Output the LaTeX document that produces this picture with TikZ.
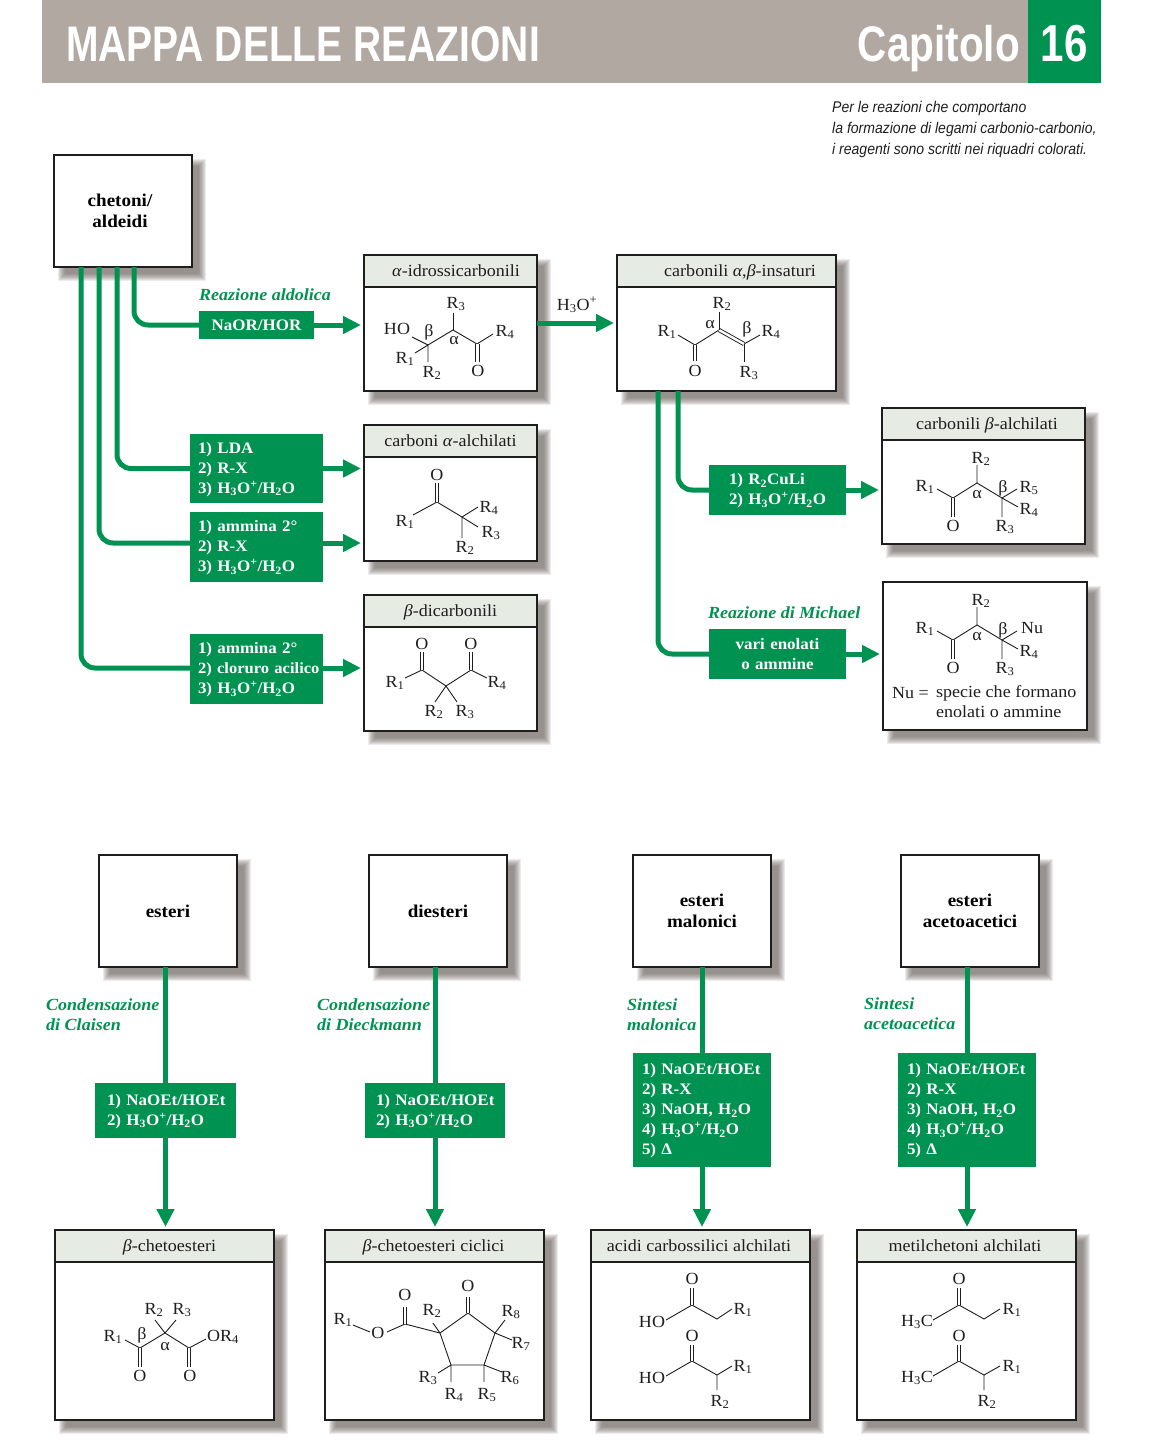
\documentclass[tikz,border=0pt]{standalone}
\usepackage{fontspec}
\setmainfont[FakeStretch=1.06]{Liberation Serif}
\newfontfamily\headfont[FakeStretch=0.78]{Liberation Sans}
\newfontfamily\chapfont[FakeStretch=0.81]{Liberation Sans}
\newfontfamily\notefont[FakeStretch=0.905]{Liberation Sans}
\usetikzlibrary{arrows.meta}
\definecolor{rgreen}{RGB}{0,146,80}
\definecolor{rtaupe}{RGB}{178,168,162}
\definecolor{rpale}{RGB}{230,236,228}
\definecolor{rshadow}{RGB}{95,85,80}
\definecolor{rink}{RGB}{30,30,30}
\newcommand{\Rr}[1]{R\textsubscript{#1}}
\newcommand{\hthree}{H\textsubscript{3}O\textsuperscript{+}}
\newcommand{\hwork}{\mbox{\hthree/H\textsubscript{2}O}}
\tikzset{
  chem/.style={font=\fontsize{17}{20}\selectfont},
  flow/.style={line width=5pt,draw=rgreen,rounded corners=14pt},
  flowto/.style={line width=5pt,draw=rgreen,shorten >=3pt,-{Triangle[length=18pt,width=17pt]}},
  bond/.style={line width=0.9pt,draw=rink},
  dbl/.style={bond,double,double distance=2.4pt,line width=0.9pt},
  atom/.style={chem,inner sep=0pt,text=rink},
  greek/.style={atom},
  outline/.style={draw=rink,line width=1.5pt,fill=white,anchor=north west,inner sep=0pt,outer sep=0pt},
  reagent/.style={fill=rgreen,text=white,anchor=north west,inner ysep=0pt,outer sep=0pt,align=left,
    font=\fontsize{16}{20}\selectfont\bfseries},
  lowered/.style={execute at begin node=\rule{0pt}{13pt}},
  side/.style={text=rgreen,anchor=west,align=left,inner sep=0pt,
    font=\fontsize{17}{20}\selectfont\itshape\bfseries}
}
% soft shadow under a box
\newcommand{\softshadow}[4]{%
  \foreach \k in {0,...,7}
    \fill[rshadow,opacity=0.12] ({#1+4+\k},{#2+4+\k}) rectangle ({#3+14-\k},{#4+14-\k});}
% starting box
\newcommand{\startbox}[4]{%
  \softshadow{#2}{#3}{#2+138}{#3+112}
  \node[outline,minimum width=138pt,minimum height=112pt,align=center,
    font=\fontsize{18}{21}\selectfont\bfseries] (#1) at (#2,#3) {#4};}
% product box with a title strip
\newcommand{\prodbox}[7]{%
  \softshadow{#2}{#3}{#2+#4}{#3+#5}
  \node[outline,minimum width=#4pt,minimum height=#5pt] (#1) at (#2,#3) {};
  \node[outline,fill=rpale,minimum width=#4pt,minimum height=32pt] (#1-head) at (#2,#3) {};
  \node[chem,inner sep=0pt,text=rink,anchor=base] (#1-title) at ({#2+#4/2+#6},{#3+21.5}) {#7};}
\begin{document}
\begin{tikzpicture}[x=1pt,y=-1pt]
    \useasboundingbox (0,0) rectangle (1168,1440);
    % Title band
    \fill[rtaupe] (42,0) rectangle (1028,83);
    \fill[rgreen] (1028,0) rectangle (1101,83);
    \node[anchor=base west,inner sep=0pt,text=white,font=\headfont\fontsize{50}{50}\selectfont\bfseries]
        (maintitle) at (66,61) {MAPPA DELLE REAZIONI};
    \node[anchor=base east,inner sep=0pt,text=white,font=\chapfont\fontsize{50}{50}\selectfont\bfseries]
        (chaptitle) at (1020,61) {Capitolo};
    \node[anchor=base,inner sep=0pt,text=white,font=\chapfont\fontsize{52}{52}\selectfont\bfseries]
        (chapnum) at (1064,61) {16};
    \node[anchor=north west,inner sep=0pt,align=left,text=rink,
        font=\notefont\fontsize{15.5}{21}\selectfont\itshape] (note) at (832,101)
        {Per le reazioni che comportano\\la formazione di legami carbonio-carbonio,\\i reagenti sono scritti nei riquadri colorati.};
    % Boxes, upper part
    \startbox{chet}{54}{155}{chetoni/\hspace*{6pt}\\aldeidi\hspace*{6pt}}
    \prodbox{aldol}{364}{255}{173}{136}{5.5}{\textit{α}-idrossicarbonili}
    \prodbox{enone}{617}{255}{219}{136}{13.5}{carbonili \textit{α},\textit{β}-insaturi}
    \prodbox{alkyl}{364}{425}{173}{136}{0}{carboni \textit{α}-alchilati}
    \prodbox{dicarb}{364}{595}{173}{136}{0}{\textit{β}-dicarbonili}
    \prodbox{betalk}{882}{408}{203}{136}{3.5}{carbonili \textit{β}-alchilati}
    \softshadow{883}{582}{1087}{730}
    \node[outline,minimum width=204pt,minimum height=148pt] (nubox) at (883,582) {};
    % Boxes, lower part
    \startbox{est}{99}{855}{esteri}
    \startbox{diest}{369}{855}{diesteri}
    \startbox{malon}{633}{855}{esteri\\malonici}
    \startbox{aceto}{901}{855}{esteri\\acetoacetici}
    \prodbox{bket}{55}{1230}{219}{190}{5}{\textit{β}-chetoesteri}
    \prodbox{cket}{325}{1230}{219}{190}{-1}{\textit{β}-chetoesteri ciclici}
    \prodbox{acid}{591}{1230}{219}{190}{-1.5}{acidi carbossilici alchilati}
    \prodbox{metk}{857}{1230}{219}{190}{-1.5}{metilchetoni alchilati}
    % Reagents
    \node[reagent,align=center,minimum width=115pt,minimum height=28pt,inner xsep=0pt]
        (naor) at (199,311) {NaOR/HOR};
    \node[reagent,lowered,minimum height=69pt,inner xsep=8pt,text width=117pt] (lda) at (190,434)
        {1) LDA\\2) R-X\\3) \hwork};
    \node[reagent,lowered,minimum height=70pt,inner xsep=8pt,text width=117pt] (amin) at (190,512)
        {1) ammina 2°\\2) R-X\\3) \hwork};
    \node[reagent,lowered,minimum height=70pt,inner xsep=8pt,text width=117pt] (clor) at (190,634)
        {1) ammina 2°\\\mbox{\fontsize{15.6}{20}\selectfont 2) cloruro acilico}\\3) \hwork};
    \node[reagent,lowered,minimum height=50pt,inner xsep=20pt,text width=97pt] (cupr) at (709,465)
        {1) \Rr{2}CuLi\\\mbox{2) \hwork}};
    \node[reagent,align=center,minimum height=50pt,inner xsep=0pt,text width=137pt] (enol) at (709,629)
        {vari enolati\\o ammine};
    \node[reagent,lowered,minimum height=55pt,inner xsep=12pt,text width=117pt] (clais) at (95,1083)
        {\mbox{1) NaOEt/HOEt}\\2) \hwork};
    \node[reagent,lowered,minimum height=55pt,inner xsep=11pt,text width=118pt] (dieck) at (365,1083)
        {\mbox{1) NaOEt/HOEt}\\2) \hwork};
    \node[reagent,lowered,minimum height=114pt,inner xsep=9pt,text width=120pt] (msyn) at (633,1053)
        {\mbox{1) NaOEt/HOEt}\\2) R-X\\3) NaOH, H\textsubscript{2}O\\4) \hwork\\5) Δ};
    \node[reagent,lowered,minimum height=114pt,inner xsep=9pt,text width=120pt] (asyn) at (898,1053)
        {\mbox{1) NaOEt/HOEt}\\2) R-X\\3) NaOH, H\textsubscript{2}O\\4) \hwork\\5) Δ};
    % Green side labels
    \node[side] (sald) at (199,295) {Reazione aldolica};
    \node[side] (smich) at (708,613) {Reazione di Michael};
    \node[side] (scla) at (46,1015) {Condensazione\\di Claisen};
    \node[side] (sdie) at (317,1015) {Condensazione\\di Dieckmann};
    \node[side] (smal) at (627,1015) {Sintesi\\malonica};
    \node[side] (sace) at (864,1014) {Sintesi\\acetoacetica};
    % Connectors
    \draw[flow] ([xshift=11pt]chet.south) |- (naor.west);
    \draw[flow] ([xshift=-6pt]chet.south) |- (lda.west);
    \draw[flow] ([xshift=-24pt]chet.south) |- ([yshift=4pt]amin.west);
    \draw[flow] ([xshift=-42pt]chet.south) |- ([yshift=1pt]clor.west);
    \draw[flowto] (naor.east) -- (naor.east -| aldol.west);
    \draw[flowto] (lda.east) -- (lda.east -| alkyl.west);
    \draw[flowto] ([yshift=4pt]amin.east) -- ([yshift=4pt]amin.east -| alkyl.west);
    \draw[flowto] ([yshift=1pt]clor.east) -- ([yshift=1pt]clor.east -| dicarb.west);
    \draw[flowto] (aldol.east) -- (enone.west);
    \node[atom] (acidlab) at (577,305) {\hthree};
    \draw[flow] ([xshift=-48.5pt]enone.south) |- (cupr.west);
    \draw[flow] ([xshift=-68.5pt]enone.south) |- (enol.west);
    \draw[flowto] (cupr.east) -- (cupr.east -| betalk.west);
    \draw[flowto] (enol.east) -- (enol.east -| nubox.west);
    \draw[flow] (clais.north |- est.south) -- (clais.north);
    \draw[flow] (dieck.north |- diest.south) -- (dieck.north);
    \draw[flow] (msyn.north |- malon.south) -- (msyn.north);
    \draw[flow] (asyn.north |- aceto.south) -- (asyn.north);
    \draw[flowto] (clais.south) -- (clais.south |- bket.north);
    \draw[flowto] (dieck.south) -- (dieck.south |- cket.north);
    \draw[flowto] (msyn.south) -- (msyn.south |- acid.north);
    \draw[flowto] (asyn.south) -- (asyn.south |- metk.north);
    % Hydroxy carbonyl
    \draw[bond] (412,337) -- (428,345) -- (453,330) -- (477,344) -- (493,334);
    \draw[bond] (415,353) -- (428,345) -- (428,362);
    \draw[bond] (453,330) -- (453,313);
    \draw[dbl] (477.5,344) -- (477.5,362);
    \node[atom] (aldHO) at (397,329) {HO};
    \node[greek] (aldb) at (429,332) {β};
    \node[atom] (aldR1) at (405,359) {\Rr{1}};
    \node[atom] (aldR2) at (432,373) {\Rr{2}};
    \node[atom] (aldR3) at (456,304) {\Rr{3}};
    \node[atom] (aldR4) at (505,332) {\Rr{4}};
    \node[greek] (alda) at (454,341) {α};
    \node[atom] (aldO) at (478,371) {O};
    % Unsaturated carbonyl
    \draw[bond] (678,335) -- (695,345) -- (719,330) (744,344) -- (760,335);
    \draw[dbl] (719,330) -- (744,344);
    \draw[bond] (719,330) -- (719,312) (744,344) -- (744,362);
    \draw[dbl] (695,345) -- (695,361);
    \node[atom] (enoR1) at (667,332) {\Rr{1}};
    \node[atom] (enoR2) at (722,304) {\Rr{2}};
    \node[atom] (enoR3) at (749,373) {\Rr{3}};
    \node[atom] (enoR4) at (771,332) {\Rr{4}};
    \node[atom] (enoO) at (695,371) {O};
    \node[greek] (enoa) at (710,325) {α};
    \node[greek] (enob) at (747,329) {β};
    % Alpha alkylated
    \draw[bond] (413,515) -- (437,502) -- (462,517) -- (478,507);
    \draw[bond] (462,517) -- (478,527) (462,517) -- (462,538);
    \draw[dbl] (437,502) -- (437,483);
    \node[atom] (alkO) at (437,475) {O};
    \node[atom] (alkR1) at (405,522) {\Rr{1}};
    \node[atom] (alkR2) at (465,548) {\Rr{2}};
    \node[atom] (alkR3) at (491,533) {\Rr{3}};
    \node[atom] (alkR4) at (489,508) {\Rr{4}};
    % Beta dicarbonyl
    \draw[bond] (405,678) -- (422,670) -- (446,686) -- (471,670) -- (487,678);
    \draw[bond] (435,702) -- (446,686) -- (457,702);
    \draw[dbl] (422,670) -- (422,652);
    \draw[dbl] (471,670) -- (471,652);
    \node[atom] (dicO1) at (422,644) {O};
    \node[atom] (dicO2) at (471,644) {O};
    \node[atom] (dicR1) at (395,683) {\Rr{1}};
    \node[atom] (dicR2) at (434,712) {\Rr{2}};
    \node[atom] (dicR3) at (465,712) {\Rr{3}};
    \node[atom] (dicR4) at (497,683) {\Rr{4}};
    % Beta alkylated
    \draw[bond] (937,489) -- (953,498) -- (977,483) -- (1002,498) -- (1017,489);
    \draw[bond] (977,483) -- (977,465) (1002,498) -- (1018,507) (1002,498) -- (1002,517);
    \draw[dbl] (953,498) -- (953,517);
    \node[atom] (balR1) at (925,487) {\Rr{1}};
    \node[atom] (balR2) at (981,459) {\Rr{2}};
    \node[atom] (balR3) at (1005,527) {\Rr{3}};
    \node[atom] (balR4) at (1029,510) {\Rr{4}};
    \node[atom] (balR5) at (1029,488) {\Rr{5}};
    \node[atom] (balO) at (953,526) {O};
    \node[greek] (bala) at (977,495) {α};
    \node[greek] (balb) at (1003,488) {β};
    % Michael product
    \draw[bond] (937,631) -- (953,640) -- (977,625) -- (1002,640) -- (1017,631);
    \draw[bond] (977,625) -- (977,607) (1002,640) -- (1018,649) (1002,640) -- (1002,659);
    \draw[dbl] (953,640) -- (953,659);
    \node[atom] (micR1) at (925,629) {\Rr{1}};
    \node[atom] (micR2) at (981,601) {\Rr{2}};
    \node[atom] (micR3) at (1005,669) {\Rr{3}};
    \node[atom] (micR4) at (1029,652) {\Rr{4}};
    \node[atom] (micNu) at (1032,628) {Nu};
    \node[atom] (micO) at (953,668) {O};
    \node[greek] (mica) at (977,637) {α};
    \node[greek] (micb) at (1003,630) {β};
    \node[atom,anchor=west] (nueq) at (892,693) {Nu =};
    \node[atom,anchor=west] (nutxa) at (936,693) {specie che formano};
    \node[atom,anchor=west] (nutxb) at (936,712) {enolati o ammine};
    % Beta keto ester
    \draw[bond] (125,1340) -- (140,1348) -- (165,1333) -- (189,1348) -- (206,1339);
    \draw[bond] (155,1320) -- (165,1333) -- (176,1320);
    \draw[dbl] (140,1348) -- (140,1367);
    \draw[dbl] (189,1348) -- (189,1367);
    \node[atom] (bkeR1) at (113,1337) {\Rr{1}};
    \node[atom] (bkeR2) at (154,1310) {\Rr{2}};
    \node[atom] (bkeR3) at (182,1310) {\Rr{3}};
    \node[atom,anchor=west] (bkeOR) at (207,1337) {O\Rr{4}};
    \node[atom] (bkeO1) at (140,1376) {O};
    \node[atom] (bkeO2) at (190,1376) {O};
    \node[greek] (bkeb) at (142,1335) {β};
    \node[greek] (bkea) at (165,1347) {α};
    % Cyclic keto ester
    \draw[bond] (353,1325) -- (370,1332) (387,1332) -- (405,1324) -- (440,1333);
    \draw[bond] (440,1333) -- (468,1313) -- (495,1333) -- (484,1365) -- (451,1365) -- cycle;
    \draw[dbl] (405,1324) -- (405,1307);
    \draw[dbl] (468,1313) -- (468,1297);
    \draw[bond] (440,1333) -- (433,1323) (495,1333) -- (505,1320) (495,1333) -- (512,1340);
    \draw[bond] (484,1365) -- (502,1372) (484,1365) -- (484,1382);
    \draw[bond] (451,1365) -- (451,1382) (451,1365) -- (438,1373);
    \node[atom] (cycR1) at (343,1320) {\Rr{1}};
    \node[atom] (cycOe) at (378,1333) {O};
    \node[atom] (cycOa) at (405,1295) {O};
    \node[atom] (cycOb) at (468,1286) {O};
    \node[atom] (cycR2) at (432,1311) {\Rr{2}};
    \node[atom] (cycR3) at (428,1378) {\Rr{3}};
    \node[atom] (cycR4) at (454,1395) {\Rr{4}};
    \node[atom] (cycR5) at (487,1395) {\Rr{5}};
    \node[atom] (cycR6) at (510,1378) {\Rr{6}};
    \node[atom] (cycR7) at (521,1344) {\Rr{7}};
    \node[atom] (cycR8) at (511,1312) {\Rr{8}};
    % Alkylated acids
    \draw[bond] (666,1320) -- (692,1305) -- (717,1319) -- (732,1309);
    \draw[dbl] (692,1305) -- (692,1288);
    \draw[bond] (666,1376) -- (692,1361) -- (717,1375) -- (732,1366) (717,1375) -- (717,1390);
    \draw[dbl] (692,1361) -- (692,1345);
    \node[atom] (acaOH) at (652,1322) {HO};
    \node[atom] (acaO) at (692,1279) {O};
    \node[atom] (acaR1) at (743,1310) {\Rr{1}};
    \node[atom] (acbOH) at (652,1378) {HO};
    \node[atom] (acbO) at (692,1336) {O};
    \node[atom] (acbR1) at (743,1367) {\Rr{1}};
    \node[atom] (acbR2) at (720,1402) {\Rr{2}};
    % Alkylated methyl ketones
    \draw[bond] (933,1320) -- (959,1305) -- (984,1319) -- (1000,1309);
    \draw[dbl] (959,1305) -- (959,1288);
    \draw[bond] (933,1376) -- (959,1361) -- (984,1375) -- (1000,1366) (984,1375) -- (984,1390);
    \draw[dbl] (959,1361) -- (959,1345);
    \node[atom] (mkaC) at (917,1322) {H\textsubscript{3}C};
    \node[atom] (mkaO) at (959,1279) {O};
    \node[atom] (mkaR1) at (1012,1310) {\Rr{1}};
    \node[atom] (mkbC) at (917,1378) {H\textsubscript{3}C};
    \node[atom] (mkbO) at (959,1336) {O};
    \node[atom] (mkbR1) at (1012,1367) {\Rr{1}};
    \node[atom] (mkbR2) at (987,1402) {\Rr{2}};
\end{tikzpicture}
\end{document}
